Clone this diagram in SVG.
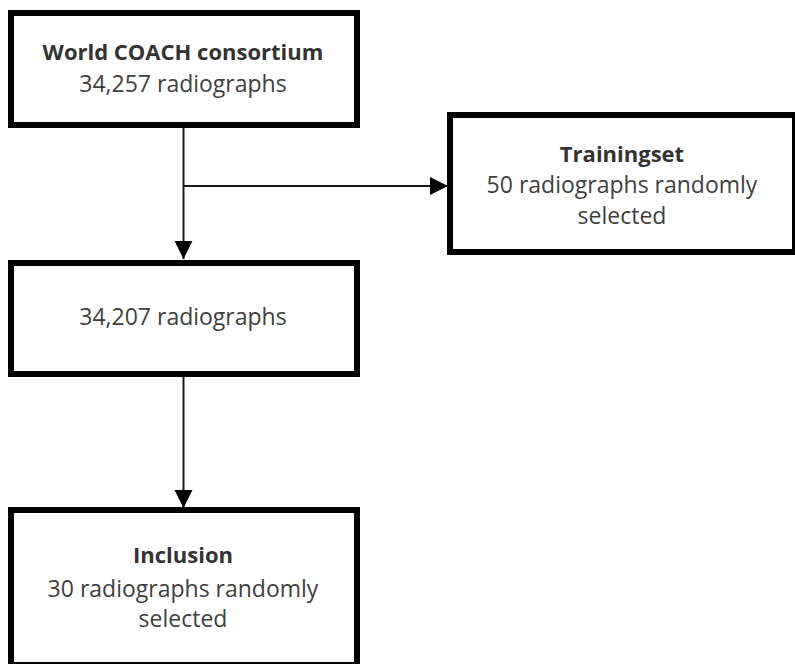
<svg xmlns="http://www.w3.org/2000/svg" width="795" height="664" viewBox="0 0 795 664">
  <style>
    .box { fill: #ffffff; stroke: #000000; stroke-width: 6; }
    .conn { fill: none; stroke: #1a1a1a; stroke-width: 2; }
    .t { font-family: "Open Sans", "Liberation Sans", sans-serif; font-size: 23px; fill: #404040; text-anchor: middle; }
    .b { font-weight: bold; font-size: 22px; fill: #333333; }
  </style>
  <defs>
    <marker id="arrow" markerUnits="userSpaceOnUse" markerWidth="20" markerHeight="20" viewBox="0 0 20 20" refX="18" refY="10" orient="auto">
      <path d="M0,1 L18,10 L0,19 Z" fill="#000000"/>
    </marker>
  </defs>
  <rect x="0" y="0" width="795" height="664" fill="#ffffff"/>

  <g id="connectors">
    <path class="conn" d="M183.5,128 L183.5,259" marker-end="url(#arrow)"/>
    <path class="conn" d="M183.5,186 L448,186" marker-end="url(#arrow)"/>
    <path class="conn" d="M183.5,377 L183.5,508" marker-end="url(#arrow)"/>
  </g>

  <g id="world-coach">
    <rect class="box" x="11" y="13" width="346" height="112"/>
    <text class="t b" x="183" y="60">World COACH consortium</text>
    <text class="t" x="183" y="92">34,257 radiographs</text>
  </g>

  <g id="trainingset">
    <rect class="box" x="450" y="115" width="345" height="137"/>
    <text class="t b" x="622" y="162">Trainingset</text>
    <text class="t" x="622" y="193">50 radiographs randomly</text>
    <text class="t" x="622" y="224">selected</text>
  </g>

  <g id="remaining">
    <rect class="box" x="11" y="263" width="346" height="111"/>
    <text class="t" x="183" y="325">34,207 radiographs</text>
  </g>

  <g id="inclusion">
    <rect class="box" x="11" y="510" width="346" height="155"/>
    <text class="t b" x="183" y="563">Inclusion</text>
    <text class="t" x="183" y="597">30 radiographs randomly</text>
    <text class="t" x="183" y="627">selected</text>
  </g>
</svg>
